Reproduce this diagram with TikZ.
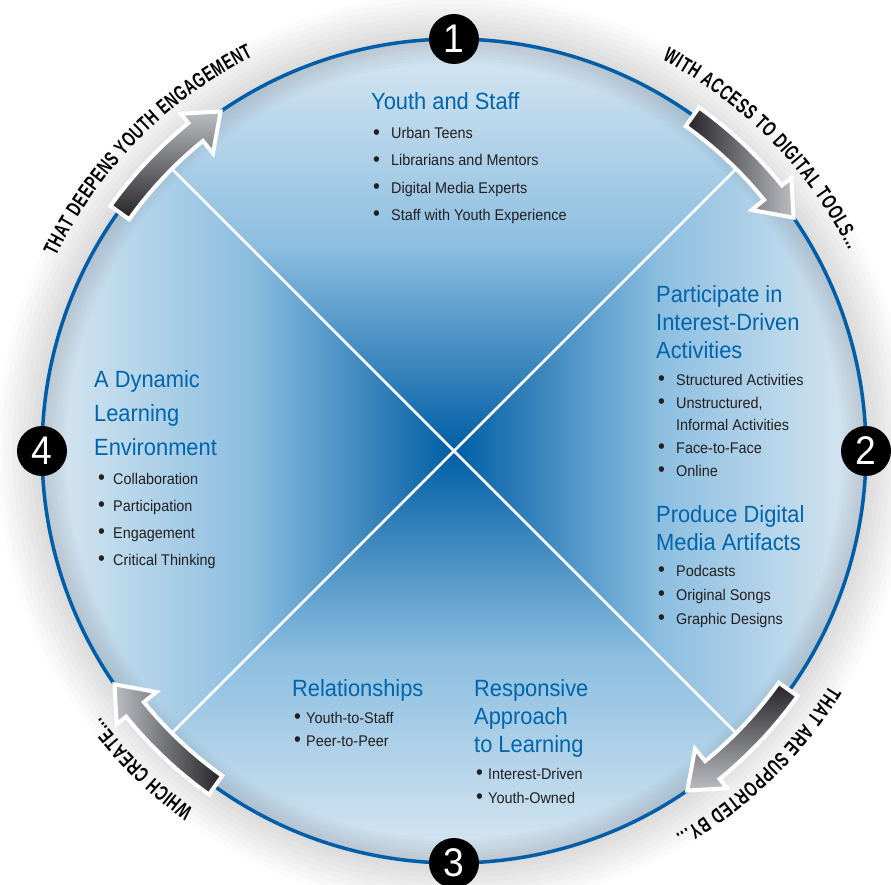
\documentclass[tikz,border=0pt]{standalone}
\usepackage{fontspec}
\setmainfont{Liberation Sans}[FakeStretch=0.93]
\newfontfamily\arcfont{Liberation Sans}[FakeStretch=0.68]
\usetikzlibrary{decorations.text}

\definecolor{ringblue}{RGB}{0,94,168}
\definecolor{headblue}{RGB}{0,101,172}
\definecolor{bodygray}{RGB}{35,31,32}
\definecolor{qedge}{RGB}{218,232,242}
\definecolor{qmid}{RGB}{140,190,224}
\definecolor{qcore}{RGB}{0,94,165}
\definecolor{arrdark}{RGB}{35,35,38}
\definecolor{arrlight}{RGB}{188,189,194}

\newcommand{\bul}[1][18pt]{\makebox[#1][l]{\raisebox{-0.5pt}{\fontsize{21}{21}\selectfont\textbullet}}}
\newcommand{\ringarrow}[2]{%
  \shadedraw[draw=white, line width=4pt, #2]
    ({#1+9.5}:399) arc[start angle={#1+9.5}, end angle={#1-6}, radius=399]
    -- ({#1-6}:383) -- ({#1-10.5}:412) -- ({#1-6}:434) -- ({#1-6}:422)
    arc[start angle={#1-6}, end angle={#1+9.5}, radius=422] -- cycle;}

\begin{document}
\begin{tikzpicture}[x=1pt, y=1pt,
	head/.style={anchor=base west, inner sep=0, text=headblue,
		font=\fontsize{23.5}{23.5}\selectfont},
	itm/.style={anchor=base west, inner sep=0, text=bodygray,
		font=\fontsize{15.5}{15.5}\selectfont},
	num/.style={circle, fill=black, text=white, minimum size=50pt,
		inner sep=0, font=\fontsize{40}{40}\selectfont},
	arctxt/.style={decorate, decoration={text along path, text align=fit to path,
		text={|\arcfont\bfseries\fontsize{21}{21}\selectfont|#1}}}]
	\useasboundingbox (-454,-433) rectangle (437,451);
	% soft shadow round the wheel
	\foreach \w in {10,20,...,90}
		\draw[black, opacity=0.014, line width=\w] (0,0) circle (412);
	% the four shaded quarters
	\begin{scope}
		\clip (0,0) circle (412);
		\shade[top color=qedge, bottom color=qcore, middle color=qmid] (0,0) -- (-412,412) -- (412,412) -- cycle;
		\shade[top color=qcore, bottom color=qedge, middle color=qmid] (0,0) -- (-412,-412) -- (412,-412) -- cycle;
		\shade[left color=qedge, right color=qcore, middle color=qmid] (0,0) -- (-412,412) -- (-412,-412) -- cycle;
		\shade[left color=qcore, right color=qedge, middle color=qmid] (0,0) -- (412,412) -- (412,-412) -- cycle;
		\foreach \w in {6,12,...,48}
			\draw[black!70, opacity=0.025, line width=\w] (0,0) circle (412);
	\end{scope}
	\coordinate (d1) at (135:399);
	\coordinate (d2) at (45:399);
	\coordinate (d3) at (-45:399);
	\coordinate (d4) at (-135:399);
	\draw[white, line width=2.5] (d1) -- (d3);
	\draw[white, line width=2.5] (d2) -- (d4);
	\node[circle, draw=ringblue, line width=3.5, minimum size=824pt, inner sep=0, outer sep=0] (ring) at (0,0) {};
	% arrows on the rim
	\ringarrow{135}{top color=arrlight, bottom color=arrdark}
	\ringarrow{45}{left color=arrdark, right color=arrlight}
	\ringarrow{-45}{top color=arrdark, bottom color=arrlight}
	\ringarrow{225}{left color=arrlight, right color=arrdark}
	\node[num] (n1) at (ring.north) {1};
	\node[num] (n2) at (ring.east) {2};
	\node[num] (n3) at (ring.south) {3};
	\node[num] (n4) at (ring.west) {4};
	% words round the rim
	\path[arctxt=THAT DEEPENS YOUTH ENGAGEMENT] (154:443) arc[start angle=154, end angle=117, radius=443];
	\path[arctxt=WITH ACCESS TO DIGITAL TOOLS...] (62:443) arc[start angle=62, end angle=27, radius=443];
	\path[arctxt=THAT ARE SUPPORTED BY...] (-32:443) arc[start angle=-32, end angle=-60, radius=443];
	\path[arctxt=WHICH CREATE...] (234:443) arc[start angle=234, end angle=217, radius=443];
	% quarter 1
	\node[head] (q1h) at (-83,341) {Youth and Staff};
	\foreach \t [count=\i] in {Urban Teens, Librarians and Mentors, Digital Media Experts, Staff with Youth Experience}
		\node[itm] (q1i\i) at (-81,{339-27*\i}) {\bul\t};
	% quarter 2
	\foreach \t [count=\i] in {Participate in, Interest-Driven, Activities}
		\node[head] (q2h\i) at (202,{177-28*\i}) {\t};
	\node[itm] (q2i1) at (204,66) {\bul Structured Activities};
	\node[itm] (q2i2) at (204,43) {\bul Unstructured,};
	\node[itm] (q2i3) at (222,21) {Informal Activities};
	\node[itm] (q2i4) at (204,-2) {\bul Face-to-Face};
	\node[itm] (q2i5) at (204,-25) {\bul Online};
	\node[head] (q2h4) at (202,-71) {Produce Digital};
	\node[head] (q2h5) at (202,-99) {Media Artifacts};
	\foreach \t [count=\i] in {Podcasts, Original Songs, Graphic Designs}
		\node[itm] (q2j\i) at (204,{-101-24*\i}) {\bul\t};
	% quarter 3
	\node[head] (q3h) at (-162,-245) {Relationships};
	\node[itm] (q3i1) at (-160,-272) {\bul[12pt]Youth-to-Staff};
	\node[itm] (q3i2) at (-160,-295) {\bul[12pt]Peer-to-Peer};
	\foreach \t [count=\i] in {Responsive, Approach, to Learning}
		\node[head] (q3k\i) at (20,{-217-28*\i}) {\t};
	\node[itm] (q3j1) at (22,-328) {\bul[12pt]Interest-Driven};
	\node[itm] (q3j2) at (22,-352) {\bul[12pt]Youth-Owned};
	% quarter 4
	\foreach \t [count=\i] in {A Dynamic, Learning, Environment}
		\node[head] (q4h\i) at (-360,{98-34*\i}) {\t};
	\foreach \t [count=\i] in {Collaboration, Participation, Engagement, Critical Thinking}
		\node[itm] (q4i\i) at (-356,{-6-27*\i}) {\bul[15pt]\t};
\end{tikzpicture}
\end{document}
